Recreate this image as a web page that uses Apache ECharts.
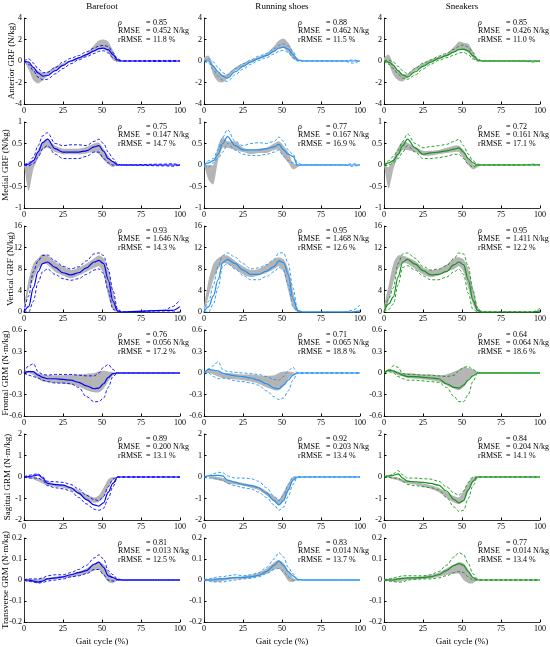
<!DOCTYPE html>
<html lang="en">
<head>
    <meta charset="UTF-8">
    <title>GRF / GRM estimation</title>
    <script src="https://cdn.jsdelivr.net/npm/echarts@6/dist/echarts.min.js"></script>
    <style>
        html, body { margin: 0; padding: 0; background: #fff; }
    </style>
</head>
<body>
    <div id="box" style="width: 550px; height: 647px;"></div>
</body>
<script>
    // gait cycle sample points (%)
    var X = [0,3,6,9,12,15,20,25,30,35,40,45,48,51,54,57,60,63,90,95,100];

    // ---- Anterior GRF ----
    var ant_bf_lo   = [0,-0.8,-1.8,-2.1,-1.8,-1.4,-0.8,-0.45,-0.1,0.15,0.45,0.9,1.05,1.1,0.8,0.1,-0.1,0,0,0,0];
    var ant_bf_hi   = [0,-0.2,-0.6,-0.9,-1.1,-1.0,-0.5,-0.2,0.1,0.35,0.7,1.5,1.9,2.0,1.8,1.0,0.1,0,0,0,0];
    var ant_bf_mean = [0,-0.1,-0.6,-1.1,-1.4,-1.35,-0.9,-0.4,0,0.3,0.6,0.95,1.15,1.2,1.05,0.6,0.1,0,0,0,0];
    var ant_bf_up   = [0,0.2,-0.2,-0.7,-1.1,-1.05,-0.6,-0.1,0.25,0.5,0.85,1.2,1.4,1.45,1.35,0.8,0.2,0,0.05,0.05,0];
    var ant_bf_dn   = [0,-0.3,-0.9,-1.5,-1.75,-1.7,-1.2,-0.7,-0.25,0.1,0.4,0.7,0.9,0.95,0.75,0.3,0,0,-0.05,-0.05,0];

    var ant_rs_lo   = [0,0,-1.3,-1.9,-2.0,-1.6,-0.9,-0.5,-0.1,0.15,0.45,0.9,1.2,1.2,0.8,0.2,0,0,0,0,0];
    var ant_rs_hi   = [0.3,0.5,-0.4,-1.0,-1.3,-1.2,-0.6,-0.2,0.1,0.4,0.7,1.4,1.9,2.1,1.7,0.9,0.1,0,0,0,0];
    var ant_rs_mean = [0,0,-0.5,-1.0,-1.4,-1.6,-1.0,-0.5,-0.1,0.25,0.5,0.9,1.2,1.3,1.1,0.6,0.1,0,0,0,0];
    var ant_rs_up   = [0,0.2,-0.1,-0.6,-1.1,-1.3,-0.7,-0.25,0.1,0.45,0.7,1.15,1.45,1.6,1.4,0.9,0.2,0,0,0.1,0];
    var ant_rs_dn   = [0,-0.2,-0.8,-1.4,-1.8,-1.9,-1.3,-0.75,-0.3,0.05,0.3,0.65,0.9,1.0,0.8,0.3,0,0,0,-0.2,0];

    var ant_sn_lo   = [0,-0.3,-1.3,-1.8,-1.9,-1.5,-0.9,-0.5,-0.1,0.15,0.45,0.85,1.1,1.0,0.8,0.3,0,0,0,0,0];
    var ant_sn_hi   = [0.3,0.6,-0.3,-0.9,-1.2,-1.2,-0.6,-0.2,0.15,0.4,0.7,1.35,1.8,1.7,1.6,0.9,0.1,0,0,0,0];
    var ant_sn_mean = [0,-0.1,-0.4,-0.9,-1.3,-1.5,-1.0,-0.5,-0.1,0.25,0.5,0.85,1.05,1.1,0.95,0.5,0.1,0,0,0,0];
    var ant_sn_up   = [0,0.1,-0.1,-0.5,-0.9,-1.2,-0.7,-0.2,0.1,0.45,0.7,1.1,1.35,1.5,1.3,0.8,0.2,0,0,0,0];
    var ant_sn_dn   = [0,-0.3,-0.7,-1.2,-1.6,-1.7,-1.3,-0.75,-0.3,0.05,0.3,0.55,0.75,0.8,0.6,0.2,0,0,0,-0.1,0];

    // ---- Medial GRF ----
    var med_bf_lo   = [0,-0.6,-0.1,0.15,0.35,0.4,0.3,0.25,0.25,0.25,0.27,0.3,0.25,0.12,0.02,-0.05,0,0,0,0,0];
    var med_bf_hi   = [0,0,0.12,0.35,0.55,0.58,0.45,0.38,0.38,0.38,0.42,0.5,0.52,0.38,0.22,0.08,0.01,0,0,0,0];
    var med_bf_mean = [0,0.02,0.1,0.3,0.52,0.6,0.38,0.3,0.3,0.3,0.33,0.42,0.45,0.32,0.15,0.08,0,0,0,0,0];
    var med_bf_up   = [0,0.05,0.18,0.45,0.68,0.75,0.5,0.45,0.47,0.47,0.45,0.55,0.6,0.5,0.3,0.15,0.02,0,0.02,0.03,0];
    var med_bf_dn   = [0,-0.02,0.03,0.18,0.38,0.45,0.25,0.15,0.15,0.15,0.2,0.3,0.3,0.15,0.05,0,0,0,-0.02,-0.03,0];

    var med_rs_lo   = [0,-0.35,-0.45,0.1,0.4,0.4,0.35,0.3,0.25,0.28,0.28,0.35,0.35,0.2,0.05,-0.1,-0.05,0,0,0,0];
    var med_rs_hi   = [0,0,0,0.45,0.65,0.55,0.55,0.4,0.35,0.38,0.4,0.5,0.55,0.45,0.3,0.05,0,0,0,0,0];
    var med_rs_mean = [0,0.05,0.1,0.25,0.5,0.66,0.45,0.35,0.35,0.35,0.38,0.42,0.48,0.35,0.25,0.2,0,0,0,0,0];
    var med_rs_up   = [0,0.1,0.15,0.35,0.65,0.82,0.55,0.45,0.5,0.52,0.5,0.55,0.65,0.55,0.35,0.25,0.05,0,0,0.03,0];
    var med_rs_dn   = [0,-0.05,0.05,0.15,0.3,0.5,0.35,0.25,0.22,0.22,0.25,0.3,0.35,0.2,0.1,0.05,0,0,0,-0.03,0];

    var med_sn_lo   = [0,-0.55,-0.1,0.2,0.35,0.35,0.3,0.22,0.22,0.25,0.28,0.3,0.3,0.15,0,-0.1,-0.05,0,0,0,0];
    var med_sn_hi   = [0,-0.05,0.15,0.4,0.55,0.52,0.42,0.33,0.33,0.35,0.4,0.45,0.45,0.35,0.15,0.02,0,0,0,0,0];
    var med_sn_mean = [0,0.05,0.1,0.25,0.45,0.6,0.4,0.25,0.28,0.3,0.33,0.37,0.4,0.3,0.15,0.05,0,0,0,0,0];
    var med_sn_up   = [0,0.1,0.2,0.35,0.55,0.72,0.5,0.4,0.43,0.45,0.48,0.55,0.6,0.45,0.25,0.1,0.02,0,0,0.02,0];
    var med_sn_dn   = [0,0,0.05,0.15,0.3,0.45,0.3,0.15,0.15,0.17,0.2,0.25,0.25,0.15,0.02,-0.05,0,0,0,0,0];

    // ---- Vertical GRF ----
    var ver_bf_lo   = [0,4,6,8,9,8.8,7.5,6.8,6.3,6.8,7.5,8.2,8.5,7,3,0.5,0,0,0,0,0];
    var ver_bf_hi   = [1,6,9,10,10.8,10.5,9.3,8.5,7.8,8.3,9,10,10.5,10,8,4,0.5,0,0,0,0];
    var ver_bf_mean = [0,1,4.5,7.5,9,9.3,8.3,7.3,6.9,7.3,8.2,9.3,9.6,9,6,2,0.2,0,0.3,0.3,1.0];
    var ver_bf_up   = [0,3,7.5,9.5,10.5,10.6,9.5,8.5,8,8.4,9.5,10.8,11,10.5,8,4,0.5,0,0.3,1,2.3];
    var ver_bf_dn   = [0,0,2,5.5,7.5,8,7,6.2,5.9,6.2,7,7.8,8,7.2,4,0.5,0,0,0,0,0];

    var ver_rs_lo   = [0,3,6,8,9,9,8,7,6.5,6.8,7.3,8,8.5,7.5,4,1,0,0,0,0,0];
    var ver_rs_hi   = [1,6,9,10,10.5,10.5,9.5,8.5,7.8,8,8.8,9.8,10.2,9.8,8,4,0.5,0,0,0,0];
    var ver_rs_mean = [0,1,3,6,9.2,9.8,9,7.8,7,7,7.6,8.5,9.5,9.2,7,2.5,0.3,0,0,0,0.2];
    var ver_rs_up   = [0,2,5,8.5,10.5,11,10.2,9,8,8.2,8.8,9.8,11,11,9,4.5,0.5,0,0,0.3,1.3];
    var ver_rs_dn   = [0,0,1.5,4.5,8.5,9,8,6.8,6,6,6.6,7.5,8.3,7.8,5,1,0,0,0,0,0];

    var ver_sn_lo   = [0,2,5.5,8,9,9,8,7,6.5,6.8,7.5,8,8.5,7.5,4.5,1.5,0,0,0,0,0];
    var ver_sn_hi   = [1,5,9,10.5,10.5,10.2,9.5,8.3,7.8,8,8.8,10,10.2,9.8,8,4.5,1,0,0,0,0];
    var ver_sn_mean = [0,1.5,2.8,6.5,9.3,9.8,8.9,7.7,6.9,7,7.5,8.8,9.3,8.8,6,2.2,0.3,0,0,0,0.2];
    var ver_sn_up   = [0,2.5,4.5,9,10.8,11,10,8.5,7.8,8,8.6,10,11,10.8,8.5,4,0.7,0,0,0,0.7];
    var ver_sn_dn   = [0,0.5,1.5,5,8.3,8.6,7.8,6.7,6,6,6.5,7.5,8,7,3.5,0.5,0,0,0,0,0];

    // ---- Frontal GRM ----
    var fro_bf_lo   = [0,0,-0.03,-0.08,-0.12,-0.13,-0.14,-0.15,-0.16,-0.19,-0.24,-0.27,-0.27,-0.22,-0.12,-0.03,0,0,0,0,0];
    var fro_bf_hi   = [0.02,0.03,0.02,0,-0.02,-0.03,-0.03,-0.03,-0.02,-0.02,-0.01,0,0.02,0.03,0.02,0.01,0,0,0,0,0];
    var fro_bf_mean = [0,0.02,0.02,-0.03,-0.06,-0.08,-0.08,-0.09,-0.1,-0.13,-0.18,-0.22,-0.21,-0.15,-0.06,-0.01,0,0,0,0,0];
    var fro_bf_up   = [0,0.1,0.13,0.02,-0.02,-0.03,-0.02,-0.02,-0.02,-0.03,-0.04,-0.04,0,0.08,0.12,0.05,0,0,0,0,0];
    var fro_bf_dn   = [0,-0.03,-0.05,-0.07,-0.1,-0.12,-0.14,-0.14,-0.15,-0.2,-0.33,-0.4,-0.4,-0.35,-0.2,-0.05,0,0,0,0,0];

    var fro_rs_lo   = [0,0,-0.02,-0.05,-0.07,-0.08,-0.09,-0.1,-0.12,-0.15,-0.2,-0.24,-0.24,-0.18,-0.08,-0.02,0,0,0,0,0];
    var fro_rs_hi   = [0,0.05,0.04,0.02,0,0,-0.01,-0.02,-0.02,-0.03,-0.04,-0.03,0,0.02,0.02,0.01,0,0,0,0,0];
    var fro_rs_mean = [0,0.05,0.04,0.03,0,-0.02,-0.04,-0.05,-0.07,-0.1,-0.15,-0.21,-0.22,-0.17,-0.1,-0.03,0,0,0,0,0];
    var fro_rs_up   = [0,0.06,0.1,0.16,0.05,0.02,0.01,0,-0.01,-0.02,-0.05,-0.09,-0.1,-0.05,0.03,0.08,0,0,0,0,0];
    var fro_rs_dn   = [0,0,-0.05,-0.08,-0.07,-0.08,-0.11,-0.12,-0.14,-0.17,-0.25,-0.33,-0.37,-0.35,-0.25,-0.1,0,0,0,0,0];

    var fro_sn_lo   = [0,0.02,0,-0.03,-0.05,-0.07,-0.08,-0.09,-0.1,-0.12,-0.17,-0.22,-0.24,-0.2,-0.1,-0.03,0,0,0,0,0];
    var fro_sn_hi   = [0,0.06,0.04,0.02,0,0,-0.01,-0.02,-0.02,-0.03,-0.02,0.02,0.05,0.08,0.07,0.05,0.02,0,0,0,0];
    var fro_sn_mean = [0,0.04,0.03,0,-0.03,-0.05,-0.05,-0.06,-0.07,-0.08,-0.15,-0.2,-0.21,-0.17,-0.1,-0.04,0,0,0,0,0];
    var fro_sn_up   = [0,0.03,0.1,0.08,-0.01,-0.02,-0.02,-0.03,-0.03,-0.04,-0.05,-0.03,0.03,0.08,0.09,0.05,0,0,0,0,0];
    var fro_sn_dn   = [0,0.02,0,-0.05,-0.08,-0.1,-0.1,-0.11,-0.12,-0.13,-0.2,-0.33,-0.4,-0.4,-0.3,-0.12,0,0,0,0,0];

    // ---- Sagittal GRM ----
    var sag_bf_lo   = [0,-0.05,-0.1,-0.2,-0.3,-0.4,-0.45,-0.5,-0.6,-0.8,-1.05,-1.2,-1.15,-0.95,-0.5,-0.15,0,0,0,0,0];
    var sag_bf_hi   = [0,0.05,0,-0.05,-0.1,-0.2,-0.3,-0.35,-0.45,-0.6,-0.8,-0.95,-0.85,-0.5,-0.1,0,0,0,0,0,0];
    var sag_bf_mean = [0,0.02,0.05,0.1,-0.05,-0.3,-0.35,-0.38,-0.5,-0.75,-1.05,-1.3,-1.35,-1.2,-0.7,-0.3,0,0,0,0,0];
    var sag_bf_up   = [0,0.08,0.12,0.15,0,-0.2,-0.22,-0.25,-0.35,-0.55,-0.85,-1.05,-1.1,-0.9,-0.45,-0.1,0,0,0,0,0];
    var sag_bf_dn   = [0,-0.05,-0.05,-0.05,-0.15,-0.4,-0.5,-0.55,-0.65,-0.95,-1.25,-1.5,-1.55,-1.45,-1.0,-0.45,0,0,0,0,0];

    var sag_rs_lo   = [0,0,-0.1,-0.15,-0.2,-0.3,-0.35,-0.4,-0.5,-0.6,-0.85,-1.15,-1.3,-1.1,-0.7,-0.2,0,0,0,0,0];
    var sag_rs_hi   = [0,0,0.05,0,-0.05,-0.1,-0.2,-0.28,-0.35,-0.45,-0.65,-0.9,-1.05,-0.7,-0.3,0,0,0,0,0,0];
    var sag_rs_mean = [0,0.05,0.07,0.08,0.05,-0.15,-0.25,-0.35,-0.4,-0.5,-0.75,-1.1,-1.3,-1.1,-0.6,-0.15,0,0,0,0,0];
    var sag_rs_up   = [0,0.05,0.15,0.22,0.2,0.05,-0.05,-0.05,-0.08,-0.2,-0.5,-0.9,-1.1,-0.85,-0.35,0,0,0,0,0,0];
    var sag_rs_dn   = [0,-0.05,-0.05,-0.1,-0.15,-0.3,-0.4,-0.5,-0.55,-0.7,-0.95,-1.3,-1.55,-1.4,-0.9,-0.35,0,0,0,0,0];

    var sag_sn_lo   = [0,-0.03,-0.1,-0.15,-0.25,-0.3,-0.35,-0.45,-0.55,-0.7,-0.95,-1.2,-1.25,-1.1,-0.7,-0.25,0,0,0,0,0];
    var sag_sn_hi   = [0,0.03,0,-0.03,-0.1,-0.15,-0.22,-0.3,-0.38,-0.5,-0.7,-0.9,-0.95,-0.65,-0.25,0,0,0,0,0,0];
    var sag_sn_mean = [0,0.05,0.08,0.15,-0.05,-0.2,-0.22,-0.25,-0.3,-0.38,-0.65,-1.05,-1.2,-1.1,-0.6,-0.2,0,0,0,0,0];
    var sag_sn_up   = [0,0.05,0.15,0.3,0.1,-0.05,-0.05,-0.08,-0.1,-0.2,-0.45,-0.75,-0.85,-0.65,-0.25,0,0,0,0,0,0];
    var sag_sn_dn   = [0,-0.02,-0.05,-0.05,-0.2,-0.35,-0.4,-0.45,-0.5,-0.6,-0.95,-1.4,-1.6,-1.55,-1.0,-0.4,0,0,0,0,0];

    // ---- Transverse GRM ----
    var tra_bf_lo   = [-0.005,-0.01,-0.01,-0.01,-0.005,0,0.005,0.008,0.012,0.02,0.03,0.045,0.05,0.02,-0.01,-0.015,0,0,0,0,0];
    var tra_bf_hi   = [0.005,0.005,0.005,0.005,0.01,0.01,0.015,0.02,0.028,0.04,0.055,0.08,0.085,0.075,0.04,0.015,0,0,0,0,0];
    var tra_bf_mean = [0,0,-0.005,-0.01,-0.005,0.005,0.01,0.015,0.025,0.035,0.045,0.075,0.085,0.06,0.02,0.012,0.002,0,0,0,0];
    var tra_bf_up   = [0,0.005,0.005,0.005,0.01,0.02,0.025,0.025,0.035,0.05,0.07,0.105,0.12,0.1,0.045,0.025,0.005,0,0,0,0];
    var tra_bf_dn   = [0,-0.005,-0.01,-0.015,-0.012,-0.005,0,0.005,0.015,0.02,0.03,0.05,0.05,0.025,0,-0.005,0,0,0,0,0];

    var tra_rs_lo   = [-0.005,-0.005,-0.008,-0.008,-0.005,0,0.003,0.005,0.01,0.018,0.03,0.05,0.055,0.03,-0.005,-0.01,0,0,0,0,0];
    var tra_rs_hi   = [0.005,0.005,0.008,0.008,0.01,0.012,0.015,0.018,0.025,0.035,0.055,0.085,0.095,0.08,0.045,0.01,0,0,0,0,0];
    var tra_rs_mean = [0,0,0,0.005,0.005,0.008,0.012,0.012,0.015,0.022,0.04,0.07,0.09,0.07,0.04,0.02,0.002,0,0,0,0];
    var tra_rs_up   = [0,0.005,0.01,0.015,0.015,0.02,0.025,0.02,0.025,0.035,0.06,0.1,0.13,0.11,0.06,0.03,0.005,0,0,0,0];
    var tra_rs_dn   = [0,-0.005,-0.01,-0.008,-0.01,-0.005,0,0.005,0.008,0.015,0.03,0.05,0.055,0.04,0.015,0,0,0,0,0,0];

    var tra_sn_lo   = [-0.005,-0.005,-0.008,-0.008,-0.005,0,0.003,0.005,0.008,0.015,0.025,0.03,0.03,0,-0.015,-0.015,0,0,0,0,0];
    var tra_sn_hi   = [0.005,0.005,0.008,0.01,0.012,0.012,0.015,0.018,0.025,0.035,0.055,0.075,0.085,0.08,0.05,0.015,0,0,0,0,0];
    var tra_sn_mean = [0,0,0,0.005,0.008,0.01,0.01,0.012,0.015,0.025,0.045,0.07,0.078,0.07,0.04,0.012,0,0,0,0,0];
    var tra_sn_up   = [0,0.005,0.01,0.015,0.02,0.02,0.02,0.02,0.025,0.04,0.07,0.11,0.13,0.12,0.08,0.03,0.005,0,0,0,0];
    var tra_sn_dn   = [0,-0.005,-0.008,-0.01,-0.01,0,0.003,0.005,0.005,0.01,0.02,0.035,0.04,0.035,0.015,0,0,0,0,0,0];

    // labels, axes and stats (row-major: 6 rows x 3 columns)
    var colTitles = ['Barefoot', 'Running shoes', 'Sneakers'];
    var colColors = ['#0000ff', '#2191f5', '#12931a'];
    var rowNames = ['Anterior GRF (N/kg)', 'Medial GRF (N/kg)', 'Vertical GRF (N/kg)',
                    'Frontal GRM (N\u00b7m/kg)', 'Sagittal GRM (N\u00b7m/kg)', 'Transverse GRM (N\u00b7m/kg)'];
    var yMin = [-4, -1, 0, -0.6, -2, -0.2];
    var yMax = [4, 1, 16, 0.6, 2, 0.2];
    var yStep = [2, 0.5, 4, 0.3, 1, 0.1];
    var rhoVals = ['0.85','0.88','0.85', '0.75','0.77','0.72', '0.93','0.95','0.95',
                   '0.76','0.71','0.64', '0.89','0.92','0.84', '0.81','0.83','0.77'];
    var rmseVals = ['0.452','0.462','0.426', '0.147','0.167','0.161', '1.646','1.468','1.411',
                    '0.056','0.065','0.064', '0.200','0.203','0.204', '0.013','0.014','0.014'];
    var rrmseVals = ['11.8','11.5','11.0', '14.7','16.9','17.1', '14.3','12.6','12.2',
                     '17.2','18.8','18.6', '13.1','13.4','14.1', '12.5','13.7','13.4'];

    var panels = [
        [ant_bf_lo, ant_bf_hi, ant_bf_mean, ant_bf_up, ant_bf_dn],
        [ant_rs_lo, ant_rs_hi, ant_rs_mean, ant_rs_up, ant_rs_dn],
        [ant_sn_lo, ant_sn_hi, ant_sn_mean, ant_sn_up, ant_sn_dn],
        [med_bf_lo, med_bf_hi, med_bf_mean, med_bf_up, med_bf_dn],
        [med_rs_lo, med_rs_hi, med_rs_mean, med_rs_up, med_rs_dn],
        [med_sn_lo, med_sn_hi, med_sn_mean, med_sn_up, med_sn_dn],
        [ver_bf_lo, ver_bf_hi, ver_bf_mean, ver_bf_up, ver_bf_dn],
        [ver_rs_lo, ver_rs_hi, ver_rs_mean, ver_rs_up, ver_rs_dn],
        [ver_sn_lo, ver_sn_hi, ver_sn_mean, ver_sn_up, ver_sn_dn],
        [fro_bf_lo, fro_bf_hi, fro_bf_mean, fro_bf_up, fro_bf_dn],
        [fro_rs_lo, fro_rs_hi, fro_rs_mean, fro_rs_up, fro_rs_dn],
        [fro_sn_lo, fro_sn_hi, fro_sn_mean, fro_sn_up, fro_sn_dn],
        [sag_bf_lo, sag_bf_hi, sag_bf_mean, sag_bf_up, sag_bf_dn],
        [sag_rs_lo, sag_rs_hi, sag_rs_mean, sag_rs_up, sag_rs_dn],
        [sag_sn_lo, sag_sn_hi, sag_sn_mean, sag_sn_up, sag_sn_dn],
        [tra_bf_lo, tra_bf_hi, tra_bf_mean, tra_bf_up, tra_bf_dn],
        [tra_rs_lo, tra_rs_hi, tra_rs_mean, tra_rs_up, tra_rs_dn],
        [tra_sn_lo, tra_sn_hi, tra_sn_mean, tra_sn_up, tra_sn_dn]
    ];

    var FONT = '"Liberation Serif", serif';
    var colLeft = [24, 204, 384];
    var gridW = 156, gridH = 86;
    var nameGaps = [8, 14, 9, 14, 12, 14];

    function pairs(ys) {
        return X.map(function (x, i) { return [x, ys[i]]; });
    }

    // grey band (ground truth mean +- SD) drawn as one closed shape
    function bandItem(lo, hi) {
        return function (params, api) {
            var upper = X.map(function (x, i) { return api.coord([x, hi[i]]); });
            var lower = X.map(function (x, i) { return api.coord([x, lo[i]]); }).reverse();
            return {
                type: 'polygon',
                shape: { points: upper.concat(lower), smooth: 0.25 },
                style: { fill: '#b5b5b5', stroke: null }
            };
        };
    }

    var grids = [], xAxes = [], yAxes = [], series = [], graphics = [];

    for (var r = 0; r < 6; r++) {
        for (var c = 0; c < 3; c++) {
            var k = r * 3 + c;
            var gTop = 18 + 104 * r;
            var gLeft = colLeft[c];
            grids.push({ left: gLeft, top: gTop, width: gridW, height: gridH });
            xAxes.push({
                type: 'value', gridIndex: k, min: 0, max: 100, interval: 25,
                name: r === 5 ? 'Gait cycle (%)' : '',
                nameLocation: 'middle', nameGap: 15,
                nameTextStyle: { fontFamily: FONT, fontSize: 9, color: '#000' },
                axisLine: { onZero: false, lineStyle: { color: '#000', width: 0.8 } },
                axisTick: { inside: true, length: 2.5 },
                axisLabel: { fontFamily: FONT, fontSize: 8, color: '#000', margin: 3 },
                splitLine: { show: false }
            });
            yAxes.push({
                type: 'value', gridIndex: k, min: yMin[r], max: yMax[r], interval: yStep[r],
                name: c === 0 ? rowNames[r] : '',
                nameLocation: 'middle', nameGap: nameGaps[r], nameMoveOverlap: false,
                nameTextStyle: { fontFamily: FONT, fontSize: 9, color: '#000' },
                axisLine: { show: true, lineStyle: { color: '#000', width: 0.8 } },
                axisTick: { show: true, inside: true, length: 2.5 },
                axisLabel: { fontFamily: FONT, fontSize: 8, color: '#000', margin: 2 },
                splitLine: { show: false }
            });

            var p = panels[k];
            var common = { xAxisIndex: k, yAxisIndex: k, symbol: 'none', silent: true, smooth: 0.35, smoothMonotone: 'x' };

            series.push({
                type: 'custom', xAxisIndex: k, yAxisIndex: k, silent: true,
                data: [[0, 0]], renderItem: bandItem(p[0], p[1]), clip: true
            });
            series.push(Object.assign({}, common, {
                type: 'line', data: pairs(p[3]),
                lineStyle: { color: colColors[c], width: 0.9, type: [3, 2] }
            }));
            series.push(Object.assign({}, common, {
                type: 'line', data: pairs(p[4]),
                lineStyle: { color: colColors[c], width: 0.9, type: [3, 2] }
            }));
            series.push(Object.assign({}, common, {
                type: 'line', data: pairs(p[2]),
                lineStyle: { color: colColors[c], width: 1.2 }
            }));

            var tx = gLeft + 94;
            var rowsTxt = [['\u03c1', rhoVals[k]], ['RMSE', rmseVals[k] + ' N/kg'], ['rRMSE', rrmseVals[k] + ' %']];
            for (var j = 0; j < 3; j++) {
                var ty = gTop + 4.5 + 8.5 * j;
                graphics.push({ type: 'text', style: { text: rowsTxt[j][0], x: tx, y: ty, fontFamily: FONT, fontSize: 8, fill: '#000', verticalAlign: 'middle', fontStyle: j === 0 ? 'italic' : 'normal' } });
                graphics.push({ type: 'text', style: { text: '=', x: gLeft + 122, y: ty, fontFamily: FONT, fontSize: 8, fill: '#000', verticalAlign: 'middle' } });
                graphics.push({ type: 'text', style: { text: rowsTxt[j][1], x: gLeft + 129, y: ty, fontFamily: FONT, fontSize: 8, fill: '#000', verticalAlign: 'middle' } });
            }
        }
    }

    for (var c2 = 0; c2 < 3; c2++) {
        graphics.push({
            type: 'text',
            style: { text: colTitles[c2], x: colLeft[c2] + gridW / 2, y: 7, fontFamily: FONT, fontSize: 9, fill: '#000',
                     align: 'center', verticalAlign: 'middle' }
        });
    }

    var mEcharts = echarts.init(document.querySelector('#box'));
    mEcharts.setOption({
        animation: false,
        backgroundColor: '#fff',
        textStyle: { fontFamily: FONT, color: '#000' },
        grid: grids,
        xAxis: xAxes,
        yAxis: yAxes,
        series: series,
        graphic: graphics
    });
</script>
</html>
